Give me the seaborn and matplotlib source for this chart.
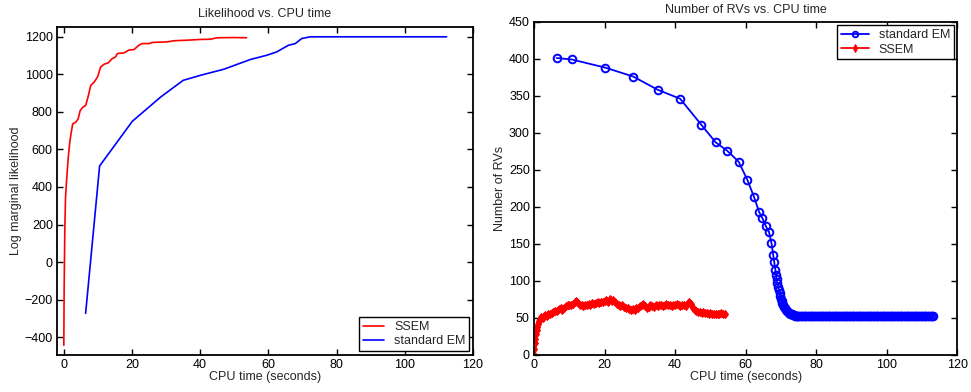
import numpy as np
import pandas as pd
import matplotlib
matplotlib.use("Agg")
import matplotlib.pyplot as plt
import seaborn as sns

# ---- left panel: log marginal likelihood vs CPU time ----
ssem_ll_time = [0.0, 0.1, 0.3, 0.5, 0.8, 1.3, 1.8, 2.1, 2.6, 3.5, 4.2, 4.8, 5.6, 6.4,
                7.1, 7.9, 8.9, 9.9, 10.8, 11.8, 13.0, 14.2, 15.2, 15.7, 17.6, 19.1,
                20.6, 22.0, 23.0, 25.0, 26.0, 30.3, 32.3, 36.2, 40.1, 43.0, 45.0,
                49.9, 53.6]
ssem_ll = [-443, -139, 182, 343, 432, 557, 646, 682, 736, 745, 763, 807, 825, 834,
           879, 941, 959, 986, 1039, 1054, 1061, 1084, 1093, 1111, 1114, 1129,
           1132, 1155, 1164, 1164, 1170, 1173, 1179, 1182, 1186, 1187, 1195,
           1196, 1195]

em_ll_time = [6.4, 10.5, 20.1, 28.4, 35.0, 40.1, 46.9, 54.7, 59.6, 62.5, 65.9,
              67.9, 69.8, 72.3, 112.3]
em_ll = [-273, 512, 750, 879, 968, 995, 1027, 1079, 1102, 1120, 1155,
         1164, 1191, 1200, 1200]

# ---- right panel: number of RVs vs CPU time ----
em_rv_time = [6.4, 10.7, 20.2, 28.1, 35.1, 41.4, 47.4, 51.5, 54.7, 58.0, 60.5,
              62.3, 63.8, 64.7, 65.7, 66.6, 67.3, 67.8, 68.1, 68.4, 68.6, 68.8,
              69.0, 69.2, 69.4, 69.6, 69.8, 70.0, 70.2, 70.4, 70.6, 70.8, 71.0,
              71.3, 71.6, 71.9, 72.2, 72.5, 72.8, 73.1, 73.4, 73.7, 74.0, 74.3,
              74.6, 74.9, 75.2, 75.6,
              76.0, 76.4, 76.8, 77.2, 77.6, 78.0, 78.4, 78.8, 79.2, 79.6,
              80.0, 80.4, 80.8, 81.2, 81.6, 82.0, 82.4, 82.8, 83.2, 83.6,
              84.0, 84.4, 84.8, 85.2, 85.6, 86.0, 86.4, 86.8, 87.2, 87.6,
              88.0, 88.4, 88.8, 89.2, 89.6, 90.0, 90.4, 90.8, 91.2, 91.6,
              92.0, 92.4, 92.8, 93.2, 93.6, 94.0, 94.4, 94.8, 95.2, 95.6,
              96.0, 96.4, 96.8, 97.2, 97.6, 98.0, 98.4, 98.8, 99.2, 99.6,
              100.0, 100.4, 100.8, 101.2, 101.6, 102.0, 102.4, 102.8, 103.2, 103.6,
              104.0, 104.4, 104.8, 105.2, 105.6, 106.0, 106.4, 106.8, 107.2, 107.6,
              108.0, 108.4, 108.8, 109.2, 109.6, 110.0, 110.4, 110.8, 111.2, 111.6,
              112.0, 112.4, 112.8, 113.2]
em_rv = [401, 399, 388, 376, 358, 346, 311, 287, 276, 261, 236,
         214, 193, 185, 174, 166, 151, 135, 125, 115, 108, 102,
         97, 92, 88, 84, 80, 76, 73, 70, 67, 65, 63,
         61, 59, 58, 57, 56, 55, 55, 54, 54, 53, 53,
         53, 53, 52, 52,
         52, 52, 52, 52, 52, 52, 52, 52, 52, 52,
         52, 52, 52, 52, 52, 52, 52, 52, 52, 52,
         52, 52, 52, 52, 52, 52, 52, 52, 52, 52,
         52, 52, 52, 52, 52, 52, 52, 52, 52, 52,
         52, 52, 52, 52, 52, 52, 52, 52, 52, 52,
         52, 52, 52, 52, 52, 52, 52, 52, 52, 52,
         52, 52, 52, 52, 52, 52, 52, 52, 52, 52,
         52, 52, 52, 52, 52, 52, 52, 52, 52, 52,
         52, 52, 52, 52, 52, 52, 52, 52, 52, 52,
         52, 52, 52, 52]

ssem_rv_time = [0.0, 0.1, 0.2, 0.35, 0.5, 0.7, 0.9, 1.1, 1.4, 1.7, 2.0, 2.4, 2.8,
                3.2, 3.6, 4.0,
                4.5, 5.0, 5.5, 6.0, 6.5, 7.0, 7.5, 8.0, 8.5, 9.0,
                9.5, 10.0, 10.5, 11.0, 11.5, 12.0, 12.5, 13.0, 13.5, 14.0,
                14.5, 15.0, 15.5, 16.0, 16.5, 17.0, 17.5, 18.0, 18.5, 19.0,
                19.5, 20.0, 20.5, 21.0, 21.5, 22.0, 22.5, 23.0, 23.5, 24.0,
                24.5, 25.0, 25.5, 26.0, 26.5, 27.0, 27.5, 28.0, 28.5, 29.0,
                29.5, 30.0, 30.5, 31.0, 31.5, 32.0, 32.5, 33.0, 33.5, 34.0,
                34.5, 35.0, 35.5, 36.0, 36.5, 37.0, 37.5, 38.0, 38.5, 39.0,
                39.5, 40.0, 40.5, 41.0, 41.5, 42.0, 42.5, 43.0, 43.5, 44.0,
                44.5, 45.0, 45.5, 46.0, 46.5, 47.0, 47.5, 48.0, 48.5, 49.0,
                49.5, 50.0, 50.5, 51.0, 51.5, 52.0, 52.5, 53.0, 53.5, 54.0]
ssem_rv = [0, 8, 16, 22, 29, 34, 38, 42, 46, 48, 51, 50, 52,
           54, 53, 56,
           55, 57, 58, 60, 59, 62, 63, 61, 64, 66,
           67, 68, 67, 69, 71, 73, 70, 67, 68, 66,
           68, 67, 69, 68, 70, 69, 70, 71, 70, 72,
           71, 73, 74, 72, 75, 73, 74, 72, 69, 67,
           66, 67, 65, 64, 63, 62, 61, 62, 61, 63,
           64, 66, 68, 69, 66, 64, 65, 67, 66, 65,
           67, 66, 67, 68, 66, 67, 69, 68, 67, 66,
           68, 67, 69, 68, 66, 67, 68, 66, 70, 72,
           69, 64, 61, 59, 58, 58, 57, 58, 57, 57,
           56, 57, 56, 56, 55, 56, 56, 57, 56, 56]

sns.set_style("ticks")
plt.rcParams["font.family"] = ["Liberation Sans", "DejaVu Sans"]
plt.rcParams["font.size"] = 9
plt.rcParams["axes.unicode_minus"] = True

fig = plt.figure(figsize=(9.71, 3.92), dpi=100)
ax1 = fig.add_axes([0.0587, 0.0944, 0.4283, 0.8366])
ax2 = fig.add_axes([0.550, 0.0944, 0.436, 0.8502])

df_ssem_ll = pd.DataFrame({"t": ssem_ll_time, "v": ssem_ll})
df_em_ll = pd.DataFrame({"t": em_ll_time, "v": em_ll})
sns.lineplot(data=df_ssem_ll, x="t", y="v", ax=ax1, color="red", lw=1.2,
             label="SSEM", estimator=None, sort=False)
sns.lineplot(data=df_em_ll, x="t", y="v", ax=ax1, color="blue", lw=1.2,
             label="standard EM", estimator=None, sort=False)
ax1.set_xlim(-2, 120)
ax1.set_ylim(-495, 1252)
ax1.set_xticks(range(0, 121, 20))
ax1.set_yticks(range(-400, 1201, 200))
ax1.set_title("Likelihood vs. CPU time", fontsize=9, pad=7)
ax1.set_xlabel("CPU time (seconds)", labelpad=0)
ax1.set_ylabel("Log marginal likelihood", labelpad=2)
leg1 = ax1.legend(loc="lower right", fancybox=False, edgecolor="black",
                  framealpha=1, fontsize=9, borderaxespad=0.3,
                  handlelength=1.7, labelspacing=0.2, borderpad=0.3)
leg1.get_frame().set_linewidth(1.0)

df_em_rv = pd.DataFrame({"t": em_rv_time, "v": em_rv})
df_ssem_rv = pd.DataFrame({"t": ssem_rv_time, "v": ssem_rv})
sns.lineplot(data=df_em_rv, x="t", y="v", ax=ax2, color="blue", lw=1.3,
             marker="o", markersize=5.5, markerfacecolor="none",
             markeredgecolor="blue", markeredgewidth=1.4,
             label="standard EM", estimator=None, sort=False)
sns.lineplot(data=df_ssem_rv, x="t", y="v", ax=ax2, color="red", lw=2.8,
             marker="d", markersize=4.5, markerfacecolor="red",
             markeredgecolor="red", label="SSEM", estimator=None, sort=False)
ax2.set_xlim(0, 120)
ax2.set_ylim(0, 450)
ax2.set_xticks(range(0, 121, 20))
ax2.set_yticks(range(0, 451, 50))
ax2.set_title("Number of RVs vs. CPU time", fontsize=9, pad=6)
ax2.set_xlabel("CPU time (seconds)", labelpad=0)
ax2.set_ylabel("Number of RVs", labelpad=2)
leg2 = ax2.legend(loc="upper right", fancybox=False, edgecolor="black",
                  framealpha=1, fontsize=9, borderaxespad=0.3,
                  handlelength=2.2, labelspacing=0.2, borderpad=0.3)
leg2.get_frame().set_linewidth(1.0)
# keep the legend sample line thin like the original
for h in leg2.get_lines():
    h.set_linewidth(1.3)
    h.set_markersize(4)

for ax in (ax1, ax2):
    for sp in ax.spines.values():
        sp.set_visible(True)
        sp.set_linewidth(1.3)
        sp.set_color("black")
    ax.tick_params(direction="in", length=4, width=1, top=True, right=True,
                   labelsize=9, colors="black", pad=3)
    ax.grid(False)

fig.savefig("out.png", dpi=100)
